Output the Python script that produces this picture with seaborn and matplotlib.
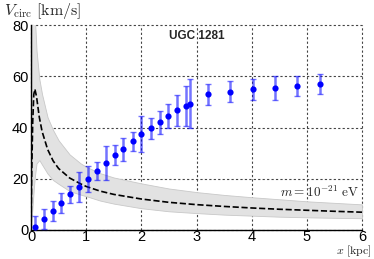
import numpy as np
import pandas as pd
import matplotlib
matplotlib.use("Agg")
import matplotlib.pyplot as plt
import seaborn as sns

obs_x = [0.08, 0.24, 0.39, 0.55, 0.71, 0.87, 1.03, 1.20, 1.36, 1.52, 1.67, 1.84,
         2.00, 2.17, 2.33, 2.49, 2.65, 2.80, 2.89, 3.21, 3.61, 4.02, 4.42, 4.83, 5.23]
obs_v = [1.3, 4.3, 7.5, 10.7, 13.9, 16.9, 20.0, 23.0, 26.3, 29.3, 31.5, 34.6,
         37.5, 39.7, 42.0, 44.5, 46.7, 48.4, 49.3, 53.0, 54.0, 54.9, 55.5, 56.3, 57.0]
obs_err = [4.0, 3.9, 3.9, 3.9, 3.3, 5.9, 5.0, 3.4, 6.6, 4.0, 4.4, 3.8,
           7.2, 4.2, 4.4, 4.7, 5.9, 7.9, 9.6, 4.1, 4.1, 4.2, 4.6, 3.8, 3.8]

# Model curve (dashed) and its band
model_x = [0.0, 0.01, 0.03, 0.05, 0.07, 0.10, 0.15, 0.20, 0.30, 0.40, 0.50, 0.70,
           0.90, 1.00, 1.25, 1.50, 2.00, 2.50, 3.00, 3.50, 4.00, 4.50, 5.00, 5.50, 6.00]
model_v = [0.0, 20.0, 42.0, 53.0, 55.0, 52.0, 44.0, 38.5, 31.5, 27.0, 24.0, 20.3,
           18.0, 17.0, 15.2, 13.9, 12.1, 10.8, 9.9, 9.2, 8.6, 8.1, 7.7, 7.3, 6.95]
band_hi = [0.0, 85.0, 90.0, 88.0, 83.0, 70.0, 59.0, 53.0, 44.0, 39.0, 35.0, 29.5,
           26.0, 24.7, 22.2, 20.5, 18.2, 16.2, 14.8, 13.7, 12.8, 12.0, 11.2, 10.6, 10.0]
band_lo = [0.0, 4.0, 10.0, 16.0, 21.0, 26.0, 27.3, 25.5, 22.0, 19.5, 18.0, 15.2,
           13.8, 13.2, 11.5, 10.3, 8.5, 7.3, 6.6, 6.0, 5.6, 5.2, 4.95, 4.75, 4.6]

x_ticks = [0, 1, 2, 3, 4, 5, 6]
y_ticks = [0, 20, 40, 60, 80]

sns.set_theme(style="white")
plt.rcParams['font.family'] = ['Liberation Sans', 'DejaVu Sans']
plt.rcParams['mathtext.fontset'] = 'cm'

fig = plt.figure(figsize=(3.74, 2.59), dpi=100)
ax = fig.add_axes([0.083, 0.112, 0.885, 0.791])

model = pd.DataFrame({'x': model_x, 'v': model_v, 'hi': band_hi, 'lo': band_lo})
obs = pd.DataFrame({'x': obs_x, 'v': obs_v, 'err': obs_err})

ax.fill_between(model['x'], model['lo'], model['hi'], color='#e2e2e2',
                edgecolor='#c8c8c8', linewidth=0.6, zorder=1)
sns.lineplot(data=model, x='x', y='v', ax=ax, color='black', linestyle='--',
             linewidth=1.2, zorder=3, dashes=(3, 1.5))

ax.errorbar(obs['x'], obs['v'], yerr=obs['err'], fmt='none',
            ecolor=(0.0, 0.0, 1.0, 0.55), elinewidth=1.8, capsize=2,
            capthick=1, zorder=4)
sns.scatterplot(data=obs, x='x', y='v', ax=ax, color='blue', s=20,
                edgecolor='blue', linewidth=0, zorder=5)

ax.set_xlim(0, 6)
ax.set_ylim(0, 80)
ax.set_xticks(x_ticks)
ax.set_yticks(y_ticks)
ax.tick_params(length=0, labelsize=10.5, pad=2, colors='black')
ax.tick_params(axis='x', pad=0.3)
ax.grid(True, color='#444444', linestyle=(0, (2, 2)), linewidth=0.8)
for gl in ax.get_xgridlines() + ax.get_ygridlines():
    gl.set_clip_on(False)
for s in ['top', 'right']:
    ax.spines[s].set_visible(False)
for s in ['left', 'bottom']:
    ax.spines[s].set_color('black')
    ax.spines[s].set_linewidth(1.0)
ax.set_xlabel('')
ax.set_ylabel('')

fig.text(0.012, 0.944, r"$V_{\rm circ}\ [{\rm km/s}]$", fontsize=11.5,
         ha='left', va='baseline')
fig.text(0.995, 0.018, r"$x\ [{\rm kpc}]$", fontsize=8.6, ha='right', va='baseline')
ax.text(3.0, 75.7, 'UGC 1281', fontsize=8.5, fontweight='bold',
        ha='center', va='center')
ax.text(5.95, 12.9, r"$m=10^{-21}\ {\rm eV}$", fontsize=9.5, ha='right',
        va='baseline', zorder=6)

fig.savefig('out.png', dpi=100)
